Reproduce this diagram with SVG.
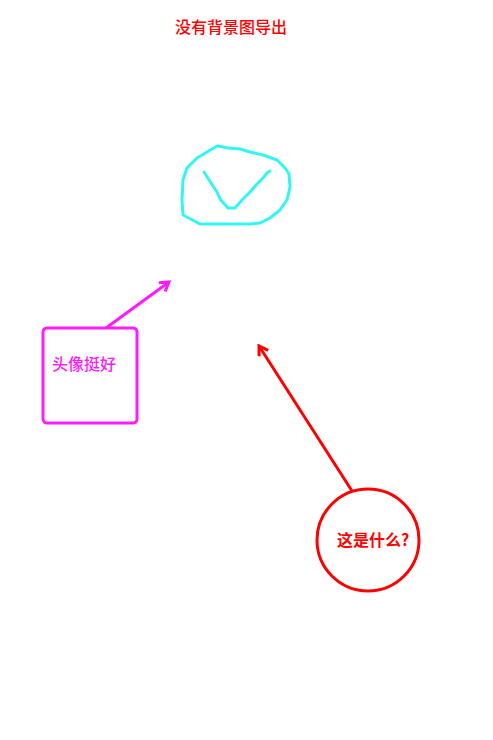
<svg xmlns="http://www.w3.org/2000/svg" width="493" height="740" viewBox="0 0 493 740">
<style>
.t{font-family:"Noto Sans CJK SC","Liberation Sans",sans-serif;font-size:16px;font-weight:500}
.b{font-weight:bold}
</style>
<defs>
<marker id="am" viewBox="0 0 12 12" refX="10" refY="6" markerWidth="13" markerHeight="13" markerUnits="userSpaceOnUse" orient="auto"><path d="M2,1 L10,6 L2,11" fill="none" stroke="#ff1aff" stroke-width="2.8"/></marker>
<marker id="ar" viewBox="0 0 12 12" refX="10" refY="6" markerWidth="13" markerHeight="13" markerUnits="userSpaceOnUse" orient="auto"><path d="M2,1 L10,6 L2,11" fill="none" stroke="#ff0000" stroke-width="2.8"/></marker>
</defs>
<rect width="493" height="740" fill="#fff"/>
<g id="title"><text class="t" x="231" y="33" text-anchor="middle" fill="#ff0000">没有背景图导出</text></g>
<g id="sketch" fill="none" stroke="#33f5f5" stroke-width="3" stroke-linecap="round" stroke-linejoin="round">
<path d="M217,146 L218,146 L228,148 L240,149 L250,152 L263,155 L277,160 L285,168 L289,174 L290,187 L287,200 L280,210 L270,218 L260,223 L250,224 L200,224 L183,215 L182,200 L183,180 L187,168 L197,158 L207,152 L217,146 Z"/>
<path d="M204,172 L211,183 L217,192 L220,199 L228,208 L235,208 L242,200 L250,192 L257,184 L263,178 L267,173 L270,171"/>
</g>
<g id="connectors">
<line x1="106" y1="328" x2="169" y2="282" stroke="#ff1aff" stroke-width="3" marker-end="url(#am)"/>
<line x1="352" y1="491" x2="259" y2="346" stroke="#ff0000" stroke-width="3" marker-end="url(#ar)"/>
</g>
<g id="box">
<rect x="43" y="328" width="94" height="95" rx="4" fill="none" stroke="#ff1aff" stroke-width="3"/>
<text class="t" x="52" y="370" fill="#ff1aff">头像挺好</text>
</g>
<g id="circle">
<circle cx="368" cy="540" r="51" fill="none" stroke="#ff0000" stroke-width="3"/>
<text class="t b" x="337" y="546" fill="#ff0000">这是什么?</text>
</g>
</svg>
